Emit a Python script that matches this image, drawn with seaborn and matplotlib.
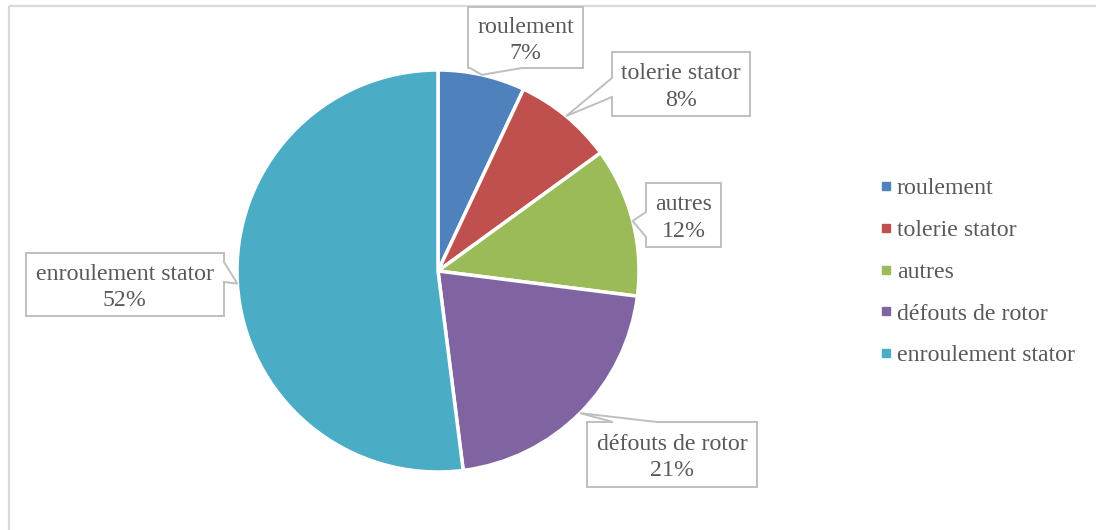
import numpy as np
import matplotlib
matplotlib.use("Agg")
import matplotlib.pyplot as plt
from matplotlib.lines import Line2D
from matplotlib.patches import Polygon
import seaborn as sns

# Répartition des défauts des machines asynchrones
categories = ["roulement", "tolerie stator", "autres", "défouts de rotor", "enroulement stator"]
shares = [7, 8, 12, 21, 52]
colors = ["#4F81BD", "#C0504D", "#9BBB59", "#8064A2", "#4BACC6"]

sns.set_theme(style="white")
plt.rcParams["font.family"] = ["Liberation Serif", "DejaVu Serif"]

W, H = 1096, 530
fig = plt.figure(figsize=(W / 100, H / 100), dpi=100)
ax = fig.add_axes([0, 0, 1, 1])


def py(y):
    """Convert a top-down pixel row to the axes' bottom-up coordinate."""
    return H - y


# outer chart frame (top and left edges visible)
frame_col = "#D9D9D9"
ax.plot([8.5, W], [py(5.5), py(5.5)], color=frame_col, lw=1.6, solid_capstyle="butt")
ax.plot([8.5, 8.5], [py(5.5), 0], color=frame_col, lw=1.6, solid_capstyle="butt")

cx, cy, R = 438, py(271), 201
wedges, _ = ax.pie(
    shares,
    colors=colors,
    startangle=90,
    counterclock=False,
    center=(cx, cy),
    radius=R,
    wedgeprops=dict(edgecolor="white", linewidth=2.5),
    frame=True,
)
ax.set_xlim(0, W)
ax.set_ylim(0, H)
ax.set_aspect("equal")
ax.axis("off")

text_col = "#595959"
box_col = "#BFBFBF"
fs = 17.2

# callout boxes: (left, top, right, bottom) in pixel rows, side of the pointer,
# and the span of the pointer base along that side
callouts = [
    ((468, 7, 583, 68), "bottom", (470, 522)),
    ((612, 52, 750, 116), "left", (78, 97)),
    ((646, 183, 721, 247), "left", (212, 237)),
    ((587, 422, 757, 487), "top", (613, 657)),
    ((26, 253, 224, 316), "right", (262, 282)),
]

for w, cat, val, (box, side, (b0, b1)) in zip(wedges, categories, shares, callouts):
    # pointer tip sits on the rim at the middle of the slice
    mid = np.deg2rad((w.theta1 + w.theta2) / 2)
    tip = (cx + R * np.cos(mid), cy + R * np.sin(mid))
    l, t, r, b = box
    outline = {
        "bottom": [(l, t), (r, t), (r, b), (b1, b), None, (b0, b), (l, b)],
        "left": [(l, t), (r, t), (r, b), (l, b), (l, b1), None, (l, b0)],
        "top": [(l, t), (b0, t), None, (b1, t), (r, t), (r, b), (l, b)],
        "right": [(l, t), (r, t), (r, b0), None, (r, b1), (r, b), (l, b)],
    }[side]
    verts = [tip if p is None else (p[0], py(p[1])) for p in outline]
    ax.add_patch(Polygon(verts, closed=True, facecolor="white", edgecolor=box_col,
                         lw=1.4, joinstyle="miter", zorder=3))
    ax.text((l + r) / 2, py((t + b) / 2 + 3), f"{cat}\n{val}%", ha="center", va="center",
            color=text_col, fontsize=fs, linespacing=1.36, zorder=4)

handles = [Line2D([], [], marker="s", linestyle="none", markersize=5.2,
                  markerfacecolor=c, markeredgecolor=c) for c in colors]
fig.legend(handles, categories, loc="center left", bbox_to_anchor=(881 / W, py(272) / H),
           frameon=False, fontsize=fs, labelcolor=text_col, handlelength=0.4,
           handletextpad=0.26, labelspacing=0.84, borderpad=0, borderaxespad=0)

fig.savefig("out.png", dpi=100, facecolor="white")
